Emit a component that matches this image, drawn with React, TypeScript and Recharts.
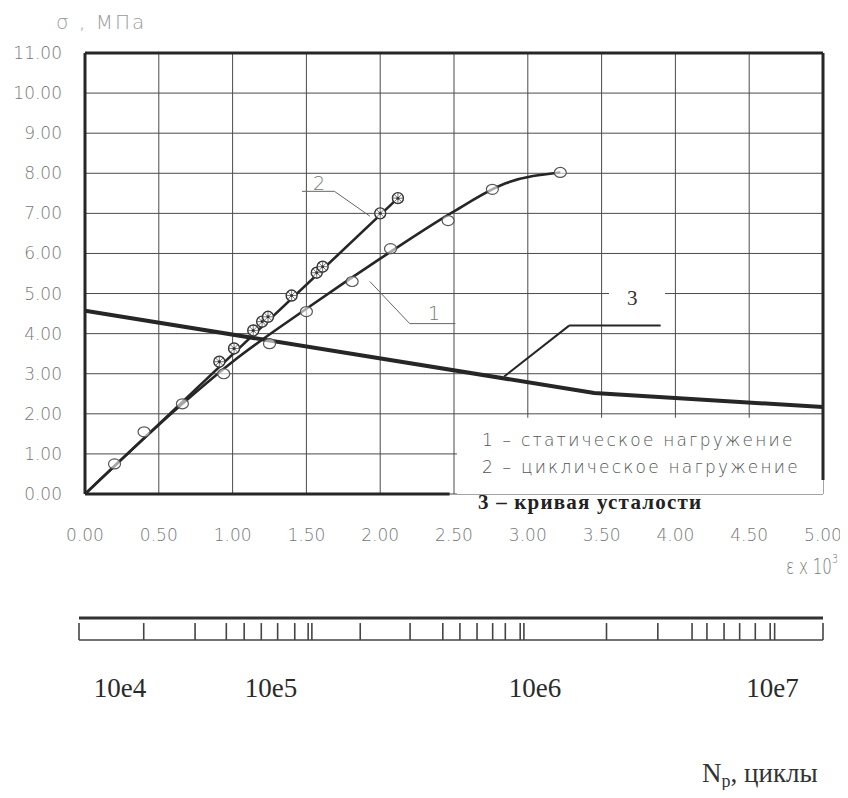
import React from "react";
import {
  ComposedChart,
  Line,
  Scatter,
  XAxis,
  YAxis,
  CartesianGrid,
  ReferenceLine,
  ReferenceArea,
} from "recharts";

const strainTicks = [0, 0.5, 1, 1.5, 2, 2.5, 3, 3.5, 4, 4.5, 5];
const stressTicks = [0, 1, 2, 3, 4, 5, 6, 7, 8, 9, 10, 11];

// 1 - статическое нагружение
const staticLineX = [0, 0.66, 1.0, 1.5, 2.0, 2.5, 2.85, 3.22];
const staticLineY = [0, 2.25, 3.3, 4.62, 5.87, 7.05, 7.75, 8.02];
const staticPtX = [0.2, 0.4, 0.66, 0.94, 1.25, 1.5, 1.81, 2.07, 2.46, 2.76, 3.22];
const staticPtY = [0.75, 1.55, 2.25, 3.0, 3.75, 4.55, 5.3, 6.12, 6.82, 7.6, 8.02];

// 2 - циклическое нагружение
const cyclicLineX = [0, 2.12];
const cyclicLineY = [0, 7.38];
const cyclicPtX = [0.91, 1.01, 1.14, 1.2, 1.24, 1.4, 1.57, 1.61, 2.0, 2.12];
const cyclicPtY = [3.3, 3.63, 4.08, 4.3, 4.42, 4.95, 5.52, 5.67, 7.0, 7.38];

// 3 - кривая усталости
const fatigueX = [0, 3.45, 5.0];
const fatigueY = [4.57, 2.52, 2.17];

// шкала циклов (положение штрихов, % длины шкалы)
const cycleTickPos = [
  0, 8.7, 15.6, 19.8, 22.2, 24.5, 26.7, 29.0, 30.8, 31.3, 37.8, 44.5, 48.9,
  51.2, 53.5, 55.6, 57.3, 59.3, 59.8, 70.9, 77.8, 82.4, 84.4, 86.7, 88.8,
  90.9, 92.9, 93.5, 100,
];
const decadeLabels = ["10e4", "10e5", "10e6", "10e7"];
const decadePos = [5.5, 25.8, 61.3, 93.2];

const zip = (xs: number[], ys: number[]) => xs.map((x, i) => ({ x, y: ys[i] }));

const staticLine = zip(staticLineX, staticLineY);
const staticPts = zip(staticPtX, staticPtY);
const cyclicLine = zip(cyclicLineX, cyclicLineY);
const cyclicPts = zip(cyclicPtX, cyclicPtY);
const fatigue = zip(fatigueX, fatigueY);

const INK = "#262626";
const GRID = "#4a4a4a";
const TEXT = "#777";
const thin = "'DejaVu Sans', sans-serif";
const serif = "'Liberation Serif', 'Times New Roman', serif";

const OpenCircle = (props: any) => {
  const { cx, cy } = props;
  return <ellipse cx={cx} cy={cy} rx={6} ry={5} fill="#fff" fillOpacity={0.6} stroke="#555" strokeWidth={1.2} />;
};

const HatchCircle = (props: any) => {
  const { cx, cy } = props;
  const r = 5.5;
  const d = r * 0.7;
  return (
    <g>
      <circle cx={cx} cy={cy} r={r} fill="#fff" stroke="#333" strokeWidth={1.4} />
      <line x1={cx - r} y1={cy} x2={cx + r} y2={cy} stroke="#555" strokeWidth={0.8} />
      <line x1={cx} y1={cy - r} x2={cx} y2={cy + r} stroke="#555" strokeWidth={0.8} />
      <line x1={cx - d} y1={cy - d} x2={cx + d} y2={cy + d} stroke="#555" strokeWidth={0.8} />
      <line x1={cx - d} y1={cy + d} x2={cx + d} y2={cy - d} stroke="#555" strokeWidth={0.8} />
      <circle cx={cx} cy={cy} r={1.5} fill="#333" />
    </g>
  );
};

const abs = (left: number, top: number, extra: React.CSSProperties = {}): React.CSSProperties => ({
  position: "absolute",
  left,
  top,
  whiteSpace: "nowrap",
  lineHeight: 1,
  ...extra,
});

export default function App() {
  return (
    <div style={{ position: "relative", width: 840, height: 782, background: "#fff" }}>
      <ComposedChart
        width={840}
        height={560}
        margin={{ top: 45, right: 25, bottom: 34, left: 7 }}
      >
        <CartesianGrid stroke={GRID} strokeWidth={1} />
        <XAxis
          type="number"
          dataKey="x"
          domain={[0, 5]}
          ticks={strainTicks}
          tickFormatter={(v) => v.toFixed(2)}
          axisLine={false}
          tickLine={false}
          tickSize={0}
          tickMargin={35}
          height={40}
          tick={{ fill: TEXT, fontSize: 17, fontFamily: thin, fontWeight: 200 }}
          allowDataOverflow
        />
        <YAxis
          type="number"
          dataKey="y"
          domain={[0, 11]}
          ticks={stressTicks}
          tickFormatter={(v) => v.toFixed(2)}
          axisLine={{ stroke: INK, strokeWidth: 3 }}
          tickLine={false}
          tickSize={0}
          tickMargin={23}
          width={70}
          tick={{ fill: TEXT, fontSize: 17, fontFamily: thin, fontWeight: 200 }}
          allowDataOverflow
        />

        {/* поле подписи */}
        <ReferenceArea x1={2.52} x2={5} y1={0} y2={1.9} fill="#fff" fillOpacity={1} stroke="none" />
        <ReferenceArea x1={3.55} x2={3.93} y1={4.93} y2={5.07} fill="#fff" fillOpacity={1} stroke="none" />

        {/* рамка */}
        <ReferenceLine y={11} stroke={INK} strokeWidth={3} />
        <ReferenceLine segment={[{ x: 5, y: 0.35 }, { x: 5, y: 11 }]} stroke={INK} strokeWidth={3} />
        <ReferenceLine segment={[{ x: 0, y: 0 }, { x: 2.47, y: 0 }]} stroke={INK} strokeWidth={3} />

        {/* выноски */}
        <ReferenceLine segment={[{ x: 1.47, y: 7.55 }, { x: 1.69, y: 7.55 }]} stroke="#666" strokeWidth={1} />
        <ReferenceLine segment={[{ x: 1.69, y: 7.55 }, { x: 1.93, y: 6.93 }]} stroke="#666" strokeWidth={1} />
        <ReferenceLine segment={[{ x: 1.93, y: 5.3 }, { x: 2.2, y: 4.25 }]} stroke="#666" strokeWidth={1} />
        <ReferenceLine segment={[{ x: 2.2, y: 4.25 }, { x: 2.51, y: 4.25 }]} stroke="#666" strokeWidth={1} />
        <ReferenceLine segment={[{ x: 2.84, y: 2.93 }, { x: 3.28, y: 4.2 }]} stroke={INK} strokeWidth={2} />
        <ReferenceLine segment={[{ x: 3.28, y: 4.2 }, { x: 3.9, y: 4.2 }]} stroke={INK} strokeWidth={2} />

        <Line data={fatigue} dataKey="y" type="linear" stroke={INK} strokeWidth={4} dot={false} isAnimationActive={false} />
        <Line data={staticLine} dataKey="y" type="monotone" stroke={INK} strokeWidth={2.6} dot={false} isAnimationActive={false} />
        <Line data={cyclicLine} dataKey="y" type="linear" stroke={INK} strokeWidth={2.6} dot={false} isAnimationActive={false} />
        <Scatter data={staticPts} shape={OpenCircle} isAnimationActive={false} />
        <Scatter data={cyclicPts} shape={HatchCircle} isAnimationActive={false} />
      </ComposedChart>

      <ComposedChart
        width={840}
        height={100}
        margin={{ top: 10, right: 25, bottom: 8, left: 71 }}
        style={{ position: "absolute", left: 0, top: 600 }}
      >
        <XAxis
          type="number"
          dataKey="p"
          domain={[0, 100]}
          ticks={decadePos}
          tickFormatter={(v) => decadeLabels[decadePos.indexOf(v)]}
          axisLine={false}
          tickLine={false}
          tickSize={0}
          tickMargin={38}
          height={60}
          tick={{ fill: "#2a2a2a", fontSize: 27, fontFamily: serif }}
        />
        <YAxis type="number" dataKey="v" domain={[0, 1]} hide />
        <Line data={[{ p: 0, v: 0 }, { p: 100, v: 1 }]} dataKey="v" stroke="none" dot={false} isAnimationActive={false} />
        <ReferenceLine y={1} stroke="#333" strokeWidth={3} />
        <ReferenceLine y={0} stroke="#444" strokeWidth={1.5} />
        {cycleTickPos.map((p, i) => (
          <ReferenceLine
            key={`t-${i}`}
            segment={[{ x: p, y: 0 }, { x: p, y: 0.77 }]}
            stroke="#444"
            strokeWidth={1.6}
          />
        ))}
      </ComposedChart>

      <div style={abs(48, 4, { fontFamily: thin, fontWeight: 200, fontSize: 20, color: "#9a9a9a", letterSpacing: 2 })}>σ , МПа</div>
      <div style={abs(305, 166, { fontFamily: thin, fontWeight: 200, fontSize: 19, color: TEXT })}>2</div>
      <div style={abs(420, 296, { fontFamily: thin, fontWeight: 200, fontSize: 19, color: TEXT })}>1</div>
      <div style={abs(619, 280, { fontFamily: serif, fontSize: 21, color: "#333" })}>3</div>

      <div style={abs(474, 424, { fontFamily: thin, fontWeight: 200, fontSize: 17, color: "#555", letterSpacing: 2.2 })}>
        1 – статическое нагружение
      </div>
      <div style={abs(474, 451, { fontFamily: thin, fontWeight: 200, fontSize: 17, color: "#555", letterSpacing: 2.2 })}>
        2 – циклическое нагружение
      </div>
      <div style={abs(470, 484, { fontFamily: serif, fontWeight: 700, fontSize: 21, color: "#222", letterSpacing: 1.2 })}>
        3 – кривая усталости
      </div>

      <div
        style={abs(778, 549, {
          fontFamily: thin,
          fontWeight: 200,
          fontSize: 21,
          color: TEXT,
          transform: "scaleX(0.72)",
          transformOrigin: "left top",
        })}
      >
        ε x 10<sup style={{ fontSize: 13, verticalAlign: "top", position: "relative", top: -5 }}>3</sup>
      </div>
      <div style={abs(694, 752, { fontFamily: serif, fontSize: 27, color: "#333" })}>
        N<sub style={{ fontSize: 18, verticalAlign: "-5px" }}>p</sub>, циклы
      </div>
    </div>
  );
}
